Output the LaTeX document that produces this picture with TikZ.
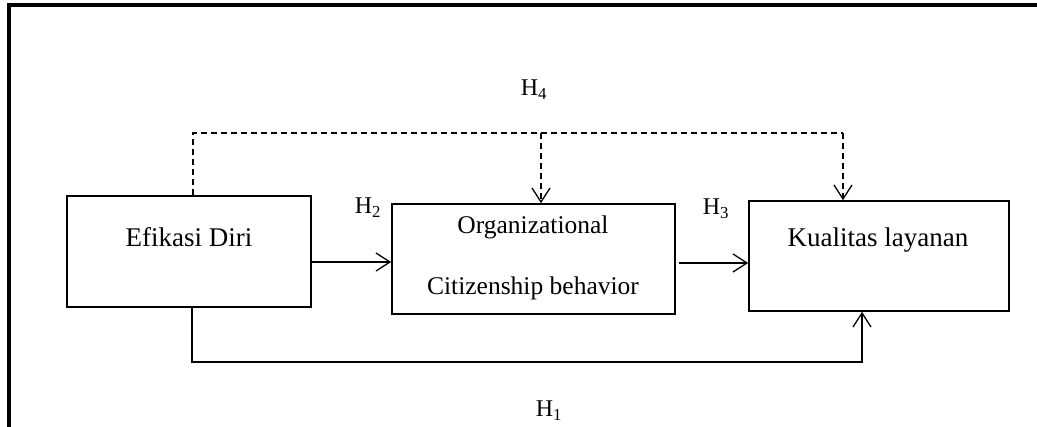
\documentclass[tikz,border=0pt]{standalone}
\usepackage{fontspec}
\setmainfont{Liberation Serif}
\usetikzlibrary{arrows.meta}
\tikzset{
  box/.style={draw, line width=1.6pt, inner sep=0pt},
  boxtext/.style={font=\fontsize{27}{30}\selectfont, inner sep=0pt},
  hlabel/.style={font=\fontsize{24}{26}\selectfont, inner sep=0pt},
  arr/.style={line width=1.3pt, -{Straight Barb[length=14pt,width=18pt,line width=1.3pt]}},
  dasharr/.style={arr, dash pattern=on 6pt off 4pt},
}

\begin{document}
\begin{tikzpicture}[x=1pt, y=-1pt]
    \useasboundingbox (0,0) rectangle (1037,427);
    % frame
    \draw[line width=4pt] (9,427) -- (9,5.5) -- (1037,5.5);

    % variables
    \node[box, minimum width=244pt, minimum height=111pt] (efikasi) at (189,251.5) {};
    \node[box, minimum width=283pt, minimum height=110pt] (ocb) at (533.5,259) {};
    \node[box, minimum width=260pt, minimum height=110pt] (kualitas) at (879,256) {};
    \node[boxtext] (efikasiText) at (189,237) {Efikasi Diri};
    \node[boxtext, font=\fontsize{25.5}{28}\selectfont] (ocbTop) at (533,227) {Organizational};
    \node[boxtext, font=\fontsize{25.5}{28}\selectfont] (ocbBottom) at (533,288) {Citizenship behavior};
    \node[boxtext] (kualitasText) at (878,240) {Kualitas layanan};

    % hypotheses
    \coordinate (h2y) at (0,262);
    \coordinate (h3y) at (0,263);
    \coordinate (h1turn) at (862,362);
    \coordinate (h4mid) at (541,133);
    \coordinate (h4end) at (843,133);
    \draw[arr] (efikasi.east |- h2y) -- (ocb.west |- h2y);
    \draw[arr] ([xshift=3pt]ocb.east |- h3y) -- (kualitas.west |- h3y);
    \draw[arr] ([xshift=3pt]efikasi.south) |- (h1turn) -- (kualitas.south -| h1turn);
    \draw[line width=1.3pt, dash pattern=on 6pt off 4pt] ([xshift=4pt]efikasi.north) |- (h4end);
    \draw[dasharr] (h4mid) -- (ocb.north -| h4mid);
    \draw[dasharr] (h4end) -- (kualitas.north -| h4end);

    \node[hlabel] (h1) at (549,411) {H\textsubscript{1}};
    \node[hlabel] (h2) at (368,208) {H\textsubscript{2}};
    \node[hlabel] (h3) at (716,209) {H\textsubscript{3}};
    \node[hlabel] (h4) at (534,90) {H\textsubscript{4}};
\end{tikzpicture}
\end{document}
